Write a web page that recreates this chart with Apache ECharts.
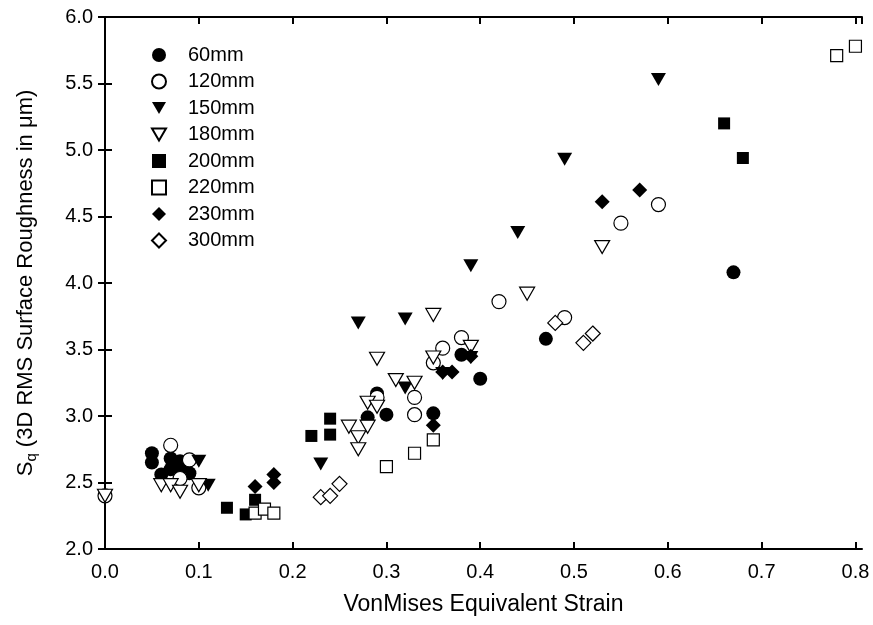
<!DOCTYPE html>
<html>
<head>
<meta charset="utf-8">
<script src="https://cdn.jsdelivr.net/npm/echarts@6/dist/echarts.min.js"></script>
<style>
  html, body { margin: 0; padding: 0; background: #fff; }
  #chart { width: 873px; height: 625px; }
</style>
</head>
<body>
<div id="chart"></div>
<script>
// [strain, Sq] pairs
const d60 = [[0.05, 2.72], [0.05, 2.65], [0.06, 2.56], [0.07, 2.68], [0.07, 2.6], [0.08, 2.66], [0.08, 2.6], [0.09, 2.57],
  [0.28, 2.99], [0.29, 3.17], [0.30, 3.01], [0.35, 3.02], [0.38, 3.46], [0.40, 3.28], [0.47, 3.58], [0.67, 4.08]]
const d120 = [[0.0, 2.4], [0.07, 2.78], [0.08, 2.53], [0.09, 2.67], [0.10, 2.46], [0.29, 3.14], [0.33, 3.14], [0.33, 3.01],
  [0.35, 3.4], [0.36, 3.51], [0.38, 3.59], [0.42, 3.86], [0.49, 3.74], [0.55, 4.45], [0.59, 4.59]]
const d150 = [[0.10, 2.66], [0.11, 2.48], [0.23, 2.64], [0.27, 3.7], [0.32, 3.73], [0.32, 3.21], [0.36, 3.32],
  [0.39, 3.44], [0.39, 4.13], [0.44, 4.38], [0.49, 4.93], [0.59, 5.53]]
const d180 = [[0.0, 2.4], [0.06, 2.48], [0.07, 2.48], [0.08, 2.43], [0.10, 2.48], [0.26, 2.92], [0.27, 2.84], [0.27, 2.75],
  [0.28, 2.92], [0.28, 3.1], [0.29, 3.07], [0.29, 3.43], [0.31, 3.27], [0.33, 3.25], [0.35, 3.76], [0.35, 3.44],
  [0.39, 3.52], [0.45, 3.92], [0.53, 4.27]]
const d200 = [[0.13, 2.31], [0.15, 2.26], [0.16, 2.37], [0.22, 2.85], [0.24, 2.86], [0.24, 2.98], [0.66, 5.2], [0.68, 4.94]]
const d220 = [[0.16, 2.27], [0.17, 2.3], [0.18, 2.27], [0.30, 2.62], [0.33, 2.72], [0.35, 2.82], [0.78, 5.71], [0.80, 5.78]]
const d230 = [[0.16, 2.47], [0.18, 2.56], [0.18, 2.5], [0.35, 2.93], [0.36, 3.33], [0.37, 3.33], [0.39, 3.45], [0.53, 4.61], [0.57, 4.7]]
const d300 = [[0.23, 2.39], [0.24, 2.4], [0.25, 2.49], [0.48, 3.7], [0.51, 3.55], [0.52, 3.62]]

const xTicks = { min: 0, max: 0.807, interval: 0.1 }
const yTicks = { min: 2, max: 6, interval: 0.5 }

const font = 'Liberation Sans, Arial, sans-serif'
// downward pointing triangle
const downTri = 'path://M0,0L20,0L10,17Z'

const filled = { color: '#000', opacity: 1 }
const open = { color: '#fff', borderColor: '#000', borderWidth: 1.2, opacity: 1 }

const chart = echarts.init(document.getElementById('chart'))

const axisCommon = {
  axisLine: { show: true, lineStyle: { color: '#000', width: 2 } },
  axisTick: { show: true, inside: true, length: 7, lineStyle: { color: '#000', width: 2 } },
  splitLine: { show: false }
}

chart.setOption({
  animation: false,
  backgroundColor: '#fff',
  grid: { left: 105, right: 11, top: 17, bottom: 76 },
  legend: {
    orient: 'vertical',
    left: 146,
    top: 40,
    itemWidth: 14,
    itemHeight: 14,
    itemGap: 6.5,
    textStyle: { fontFamily: font, fontSize: 20, color: '#000', padding: [0, 0, 0, 17] },
    data: ['60mm', '120mm', '150mm', '180mm', '200mm', '220mm', '230mm', '300mm']
  },
  xAxis: [
    Object.assign({
      type: 'value', position: 'bottom', ...xTicks,
      name: 'VonMises Equivalent Strain', nameLocation: 'middle', nameGap: 44,
      nameTextStyle: { fontFamily: font, fontSize: 23, color: '#000' },
      axisLabel: { fontFamily: font, fontSize: 20, color: '#000', margin: 13, showMaxLabel: false,
        formatter: v => v.toFixed(1) }
    }, axisCommon),
    Object.assign({
      type: 'value', position: 'top', ...xTicks, axisLabel: { show: false }
    }, axisCommon)
  ],
  yAxis: [
    Object.assign({
      type: 'value', position: 'left', ...yTicks,
      name: '{s|S}{q|q}{s| (3D RMS Surface Roughness in μm)}', nameLocation: 'middle', nameGap: 66,
      nameTextStyle: {
        rich: {
          s: { fontFamily: font, fontSize: 22, color: '#000', lineHeight: 26 },
          q: { fontFamily: font, fontSize: 15, color: '#000', lineHeight: 26, verticalAlign: 'bottom', padding: [8, 0, 0, 0] }
        }
      },
      axisLabel: { fontFamily: font, fontSize: 20, color: '#000', margin: 12, formatter: v => v.toFixed(1) }
    }, axisCommon),
    Object.assign({
      type: 'value', position: 'right', ...yTicks, axisLabel: { show: false }
    }, axisCommon)
  ],
  series: [
    { name: '60mm', type: 'scatter', data: d60, symbol: 'circle', symbolSize: 14, itemStyle: filled },
    { name: '120mm', type: 'scatter', data: d120, symbol: 'circle', symbolSize: 14, itemStyle: open },
    { name: '150mm', type: 'scatter', data: d150, symbol: downTri, symbolSize: [15, 13], itemStyle: filled },
    { name: '180mm', type: 'scatter', data: d180, symbol: downTri, symbolSize: [15, 13], itemStyle: open },
    { name: '200mm', type: 'scatter', data: d200, symbol: 'rect', symbolSize: 12, itemStyle: filled },
    { name: '220mm', type: 'scatter', data: d220, symbol: 'rect', symbolSize: 12, itemStyle: open },
    { name: '230mm', type: 'scatter', data: d230, symbol: 'diamond', symbolSize: 15, itemStyle: filled },
    { name: '300mm', type: 'scatter', data: d300, symbol: 'diamond', symbolSize: 15, itemStyle: open }
  ]
})

window.addEventListener('resize', () => chart.resize())
</script>
</body>
</html>
